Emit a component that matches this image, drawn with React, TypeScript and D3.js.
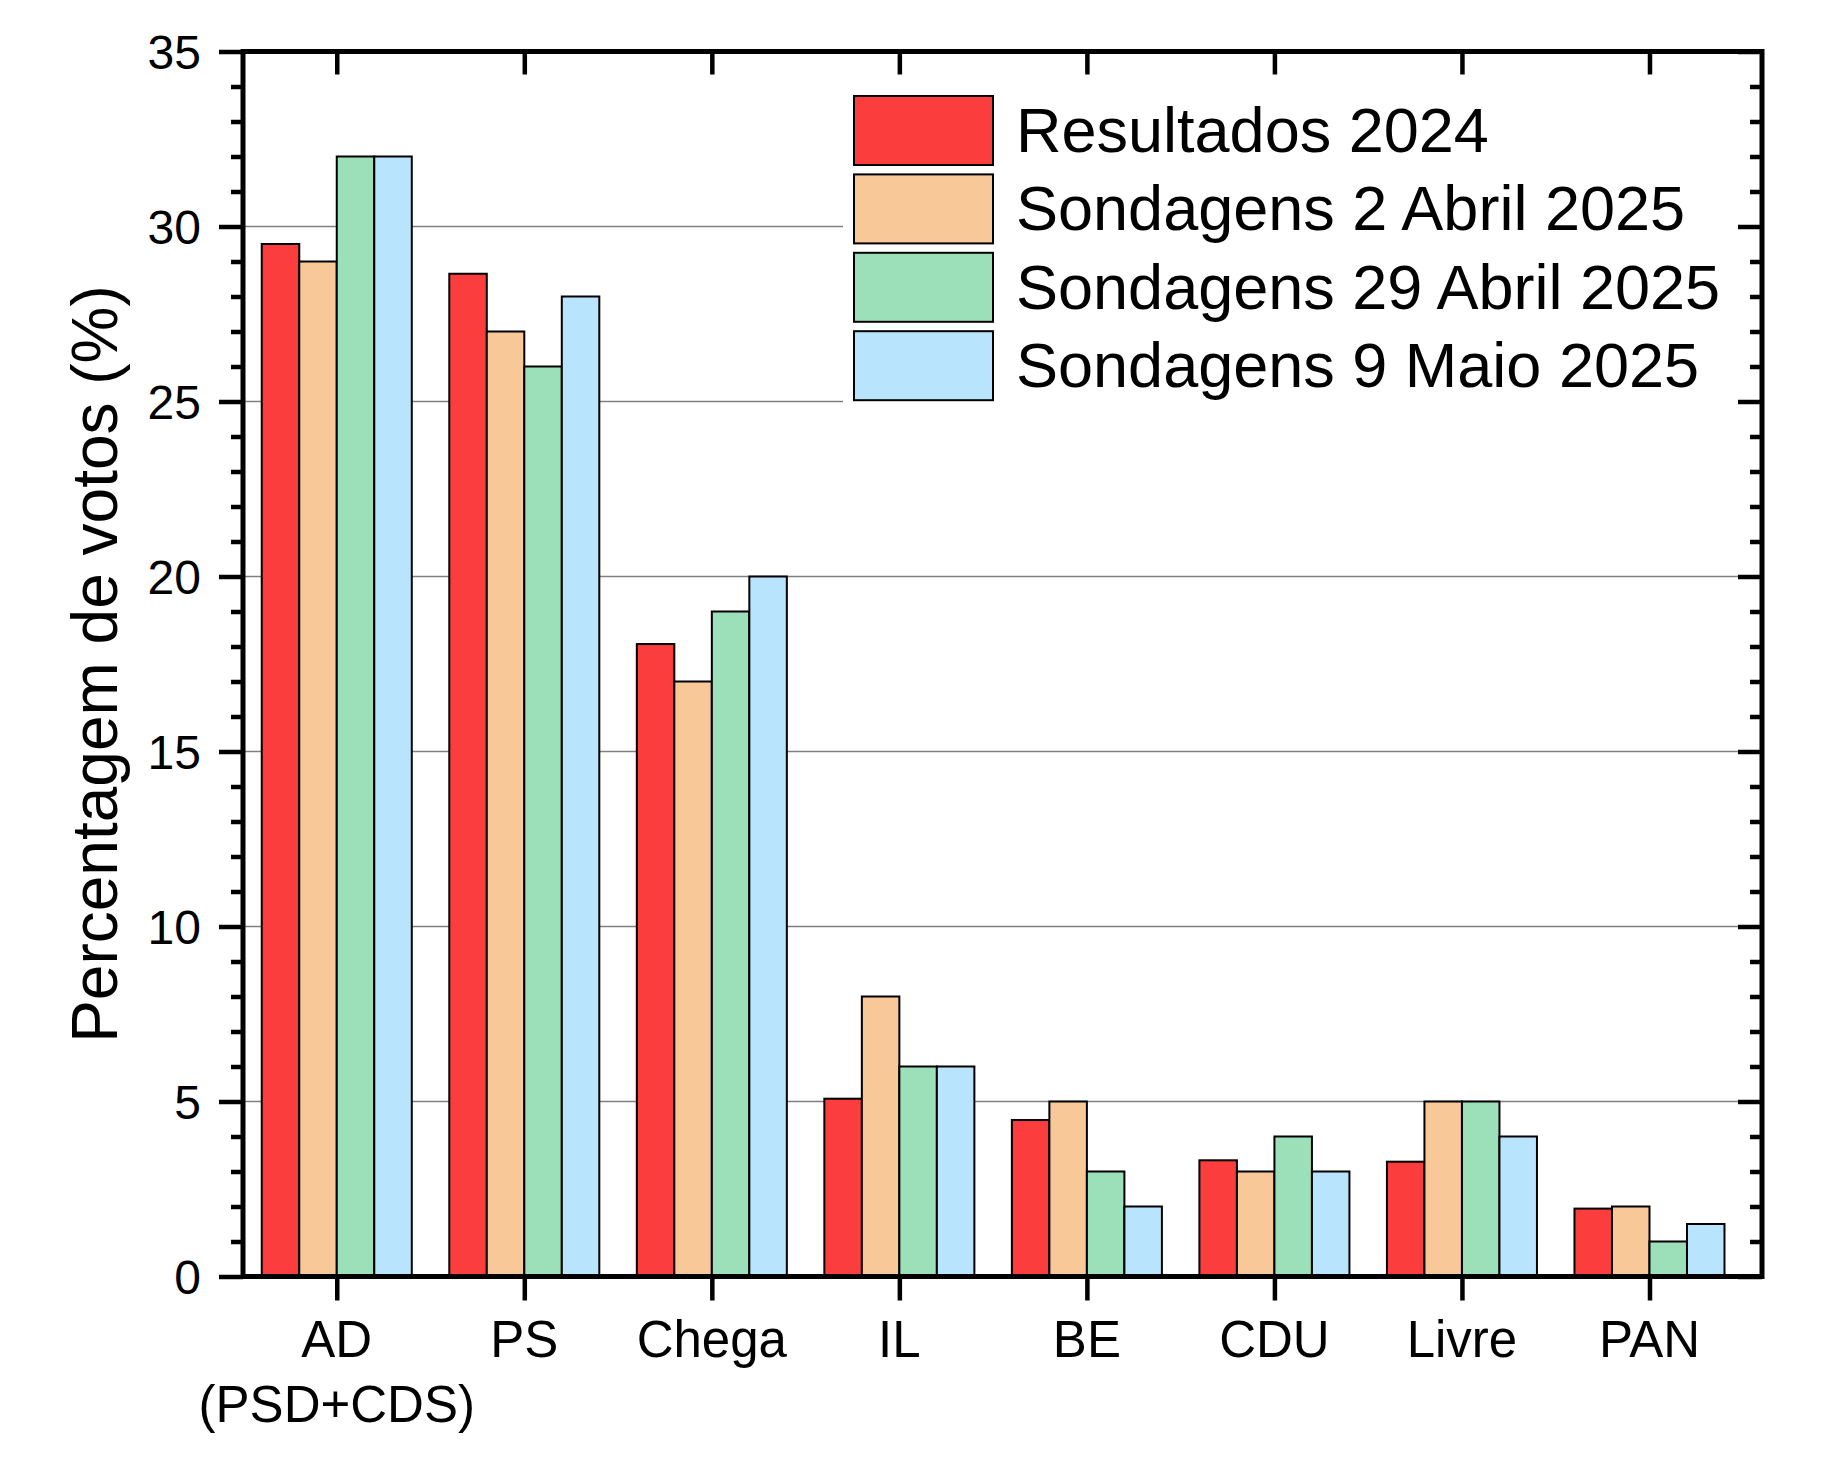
import { useEffect, useRef } from 'react';
import * as d3 from 'd3';

const parties = ['AD\n(PSD+CDS)', 'PS', 'Chega', 'IL', 'BE', 'CDU', 'Livre', 'PAN'];
const seriesNames = [
  'Resultados 2024',
  'Sondagens 2 Abril 2025',
  'Sondagens 29 Abril 2025',
  'Sondagens 9 Maio 2025',
];
const resultados2024 = [29.5, 28.65, 18.07, 5.08, 4.47, 3.32, 3.28, 1.94];
const sondagens2Abril = [29, 27, 17, 8, 5, 3, 5, 2];
const sondagens29Abril = [32, 26, 19, 6, 3, 4, 5, 1];
const sondagens9Maio = [32, 28, 20, 6, 2, 3, 4, 1.5];
const yMajorTicks = [0, 5, 10, 15, 20, 25, 30, 35];

const COLORS = ['#fc3d3d', '#f9c898', '#9ce0b9', '#b8e4fd'];
const FONT = '"Liberation Sans", Arial, sans-serif';

export default function App() {
  const svgRef = useRef<SVGSVGElement>(null);

  useEffect(() => {
    if (!svgRef.current) return;
    const svg = d3.select(svgRef.current);
    svg.selectAll('*').remove();

    const width = 1838;
    const height = 1457;
    const left = 243;
    const right = 1762;
    const top = 51.5;
    const bottom = 1276.5;

    const series = [resultados2024, sondagens2Abril, sondagens29Abril, sondagens9Maio];

    // category i sits at x = i + 1, plot spans 0.5 .. 8.6
    const x = d3.scaleLinear().domain([0.5, 8.6]).range([left, right]);
    const y = d3.scaleLinear().domain([0, 35]).range([bottom, top]);
    const barW = 0.2;

    svg.attr('width', width).attr('height', height).style('background', '#fff');

    // grid
    svg
      .append('g')
      .selectAll('line')
      .data(yMajorTicks.filter((t) => t > 0 && t < 35))
      .join('line')
      .attr('x1', left)
      .attr('x2', right)
      .attr('y1', (d) => y(d))
      .attr('y2', (d) => y(d))
      .attr('stroke', '#808080')
      .attr('stroke-width', 1.6);

    // bars
    series.forEach((vals, s) => {
      svg
        .append('g')
        .selectAll('rect')
        .data(vals)
        .join('rect')
        .attr('x', (_, i) => x(i + 1 - 0.4 + s * barW))
        .attr('width', x(barW) - x(0))
        .attr('y', (d) => y(d))
        .attr('height', (d) => y(0) - y(d))
        .attr('fill', COLORS[s])
        .attr('stroke', '#000')
        .attr('stroke-width', 2);
    });

    // legend (white box hides the grid)
    const legend = svg.append('g');
    legend
      .append('rect')
      .attr('x', 843)
      .attr('y', 62)
      .attr('width', 905)
      .attr('height', 350)
      .attr('fill', '#fff');
    seriesNames.forEach((name, s) => {
      const row = legend.append('g').attr('transform', `translate(854, ${96 + s * 78.4})`);
      row
        .append('rect')
        .attr('width', 139)
        .attr('height', 69)
        .attr('fill', COLORS[s])
        .attr('stroke', '#000')
        .attr('stroke-width', 2);
      row
        .append('text')
        .attr('x', 162)
        .attr('y', 56)
        .attr('font-family', FONT)
        .attr('font-size', 63)
        .attr('fill', '#000')
        .text(name);
    });

    const minorTicks = d3.range(0, 36).filter((t) => t % 5 !== 0);
    const styleAxis = (g: d3.Selection<SVGGElement, unknown, null, undefined>, w: number) => {
      g.select('.domain').remove();
      g.selectAll('.tick line').attr('stroke', '#000').attr('stroke-width', w);
    };

    // left axis
    svg
      .append('g')
      .attr('transform', `translate(${left},0)`)
      .call(d3.axisLeft(y).tickValues(yMajorTicks).tickSize(24).tickPadding(18).tickFormat(d3.format('d')))
      .call((g) => styleAxis(g, 4.5))
      .call((g) =>
        g
          .selectAll('.tick text')
          .attr('font-family', FONT)
          .attr('font-size', 48)
          .attr('fill', '#000')
          .attr('dy', '0.35em')
      );
    svg
      .append('g')
      .attr('transform', `translate(${left},0)`)
      .call(d3.axisLeft(y).tickValues(minorTicks).tickSize(12).tickFormat(() => ''))
      .call((g) => styleAxis(g, 4.5));

    // right axis (ticks point inward)
    svg
      .append('g')
      .attr('transform', `translate(${right},0)`)
      .call(d3.axisLeft(y).tickValues(yMajorTicks).tickSize(24).tickFormat(() => ''))
      .call((g) => styleAxis(g, 4.5));
    svg
      .append('g')
      .attr('transform', `translate(${right},0)`)
      .call(d3.axisLeft(y).tickValues(minorTicks).tickSize(12).tickFormat(() => ''))
      .call((g) => styleAxis(g, 4.5));

    const catTicks = parties.map((_, i) => i + 1);
    // top axis (inward)
    svg
      .append('g')
      .attr('transform', `translate(0,${top})`)
      .call(d3.axisBottom(x).tickValues(catTicks).tickSize(23).tickFormat(() => ''))
      .call((g) => styleAxis(g, 4.5));
    // bottom axis (outward)
    svg
      .append('g')
      .attr('transform', `translate(0,${bottom})`)
      .call(d3.axisBottom(x).tickValues(catTicks).tickSize(24).tickFormat(() => ''))
      .call((g) => styleAxis(g, 4.5));

    // category labels
    const labels = svg
      .append('g')
      .selectAll('text')
      .data(parties)
      .join('text')
      .attr('text-anchor', 'middle')
      .attr('font-family', FONT)
      .attr('font-size', 51)
      .attr('fill', '#000');
    labels.each(function (d, i) {
      const t = d3.select(this);
      d.split('\n').forEach((line, k) => {
        t.append('tspan')
          .attr('x', x(i + 1))
          .attr('y', 1357 + k * 65)
          .text(line);
      });
    });

    // frame
    svg
      .append('rect')
      .attr('x', left)
      .attr('y', top)
      .attr('width', right - left)
      .attr('height', bottom - top)
      .attr('fill', 'none')
      .attr('stroke', '#000')
      .attr('stroke-width', 5);

    // y title
    svg
      .append('text')
      .attr('transform', `translate(117, ${(top + bottom) / 2}) rotate(-90)`)
      .attr('text-anchor', 'middle')
      .attr('font-family', FONT)
      .attr('font-size', 64)
      .attr('fill', '#000')
      .text('Percentagem de votos (%)');
  }, []);

  return <svg ref={svgRef} style={{ position: 'absolute', left: 0, top: 0, display: 'block' }} />;
}
